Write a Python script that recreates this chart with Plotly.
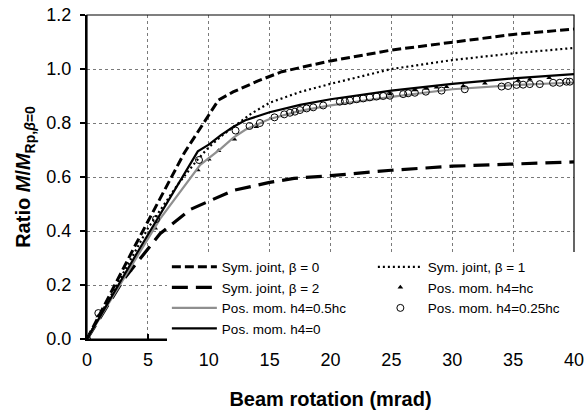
import plotly.graph_objects as go

# ---- data ----
b0_x = [0, 4, 8, 10.8, 12, 14, 16, 17.5, 20, 25, 30, 35, 40]
b0_y = [0, 0.35, 0.69, 0.885, 0.915, 0.955, 0.99, 1.005, 1.03, 1.07, 1.10, 1.128, 1.148]

b1_x = [0, 5, 7.5, 9, 10, 11, 12, 13.5, 15, 17.5, 20, 25, 30, 35, 40]
b1_y = [0, 0.41, 0.575, 0.66, 0.71, 0.75, 0.785, 0.835, 0.875, 0.915, 0.945, 1.0, 1.033, 1.058, 1.078]

b2_x = [0, 3, 6, 8.5, 10, 12, 15, 17, 20, 25, 30, 35, 40]
b2_y = [0, 0.22, 0.39, 0.48, 0.51, 0.55, 0.58, 0.595, 0.605, 0.625, 0.64, 0.648, 0.656]

h0_x = [0, 4, 9.1, 10, 11, 12, 13, 15, 17.5, 20, 25, 30, 35, 40]
h0_y = [0, 0.31, 0.695, 0.72, 0.755, 0.785, 0.81, 0.84, 0.867, 0.888, 0.92, 0.945, 0.965, 0.981]

h05_x = [0, 6, 9.3, 10, 11, 12, 13, 15, 17.5, 20, 25, 30, 35, 40]
h05_y = [0, 0.445, 0.645, 0.67, 0.705, 0.745, 0.775, 0.815, 0.845, 0.865, 0.897, 0.925, 0.94, 0.95]

hc_x = [0, 0.93, 3.5, 5.6, 9.1, 10.0, 10.8, 12.1, 13.9, 24.88, 26.93, 27.89, 28.71, 29.53,
        30.9, 32.68, 35.42, 36.37, 37.96]
hc_y = [0, 0.085, 0.256, 0.41, 0.626, 0.666, 0.697, 0.74, 0.786, 0.907, 0.922, 0.928, 0.932, 0.934,
        0.937, 0.947, 0.957, 0.962, 0.968]

h025_x = [0, 0.93, 5.67, 9.2, 12.2, 13.35, 14.2, 15.4, 16.2, 16.67, 17.08, 17.49, 18.04, 18.58,
          19.40, 20.77, 21.18, 21.59, 22.14, 22.69, 23.23, 23.78, 24.33, 24.88, 25.97, 26.38,
          26.93, 27.83, 29.12, 31.03, 34.05, 34.59, 35.28, 35.82, 36.37, 37.19, 38.28, 38.83,
          39.38, 39.66]
h025_y = [0, 0.096, 0.444, 0.663, 0.772, 0.789, 0.80, 0.821, 0.832, 0.838, 0.842, 0.848, 0.854, 0.858,
          0.865, 0.879, 0.881, 0.883, 0.888, 0.891, 0.895, 0.898, 0.90, 0.901, 0.907, 0.910,
          0.912, 0.916, 0.920, 0.925, 0.935, 0.937, 0.941, 0.942, 0.944, 0.944, 0.949, 0.949,
          0.953, 0.953]

x_ticks = [0, 5, 10, 15, 20, 25, 30, 35, 40]
y_ticks = [0.0, 0.2, 0.4, 0.6, 0.8, 1.0, 1.2]

FONT = "Arial, Liberation Sans, sans-serif"
GRAY = "#8f8f8f"

fig = go.Figure()
fig.add_trace(go.Scatter(x=b0_x, y=b0_y, mode="lines", name="Sym. joint, β = 0",
                         line=dict(color="black", width=3, dash="9px,4px")))
fig.add_trace(go.Scatter(x=b1_x, y=b1_y, mode="lines", name="Sym. joint, β = 1",
                         line=dict(color="black", width=2.2, dash="2px,3px")))
fig.add_trace(go.Scatter(x=b2_x, y=b2_y, mode="lines", name="Sym. joint, β = 2",
                         line=dict(color="black", width=3.2, dash="16px,8px")))
fig.add_trace(go.Scatter(x=hc_x, y=hc_y, mode="markers", name="Pos. mom. h4=hc",
                         marker=dict(symbol="triangle-up", size=5, color="black")))
fig.add_trace(go.Scatter(x=h05_x, y=h05_y, mode="lines", name="Pos. mom. h4=0.5hc",
                         line=dict(color=GRAY, width=2.2)))
fig.add_trace(go.Scatter(x=h025_x, y=h025_y, mode="markers", name="Pos. mom. h4=0.25hc",
                         marker=dict(symbol="circle-open", size=7, color="black",
                                     line=dict(width=1, color="black"))))
fig.add_trace(go.Scatter(x=h0_x, y=h0_y, mode="lines", name="Pos. mom. h4=0",
                         line=dict(color="black", width=2.2)))

fig.update_layout(
    width=584, height=414,
    margin=dict(l=87, r=10, t=15, b=75, autoexpand=False),
    paper_bgcolor="white", plot_bgcolor="white",
    font=dict(family=FONT, color="black"),
    showlegend=True,
    legend=dict(orientation="h", x=0.164, xanchor="left", y=0.27, yanchor="top",
                bgcolor="white", borderwidth=0, font=dict(size=13.5, family=FONT),
                itemwidth=45, entrywidth=146, entrywidthmode="pixels",
                tracegroupgap=0),
    shapes=[dict(type="rect", xref="paper", yref="paper", x0=0, y0=0, x1=1, y1=1,
                 line=dict(color="black", width=1.2), layer="above")],
)
fig.update_xaxes(
    range=[0, 40], tickvals=x_ticks, ticks="inside", ticklen=5, tickwidth=1.5, tickcolor="black",
    showline=True, linewidth=2, linecolor="black", zeroline=False, automargin=False,
    ticklabeloverflow="allow", ticklabelstandoff=3,
    showgrid=True, gridcolor="#7a7a7a", gridwidth=1, griddash="dot",
    tickfont=dict(size=18, family=FONT),
    title=dict(text="<b>Beam rotation (mrad)</b>", font=dict(size=20, family=FONT), standoff=23),
)
fig.update_yaxes(
    range=[0, 1.2], tickvals=y_ticks, tickformat=".1f", ticks="outside", ticklen=5, tickwidth=1.5,
    tickcolor="black",
    showline=True, linewidth=2, linecolor="black", zeroline=False, automargin=False,
    ticklabeloverflow="allow", ticklabelstandoff=5,
    showgrid=True, gridcolor="#7a7a7a", gridwidth=1, griddash="dot",
    tickfont=dict(size=18, family=FONT),
    title=dict(text="<b>Ratio <i>M</i>/<i>M</i><sub>Rp,<i>β</i>=0</sub></b>",
               font=dict(size=20, family=FONT), standoff=10),
)

fig.write_html("out.html")
